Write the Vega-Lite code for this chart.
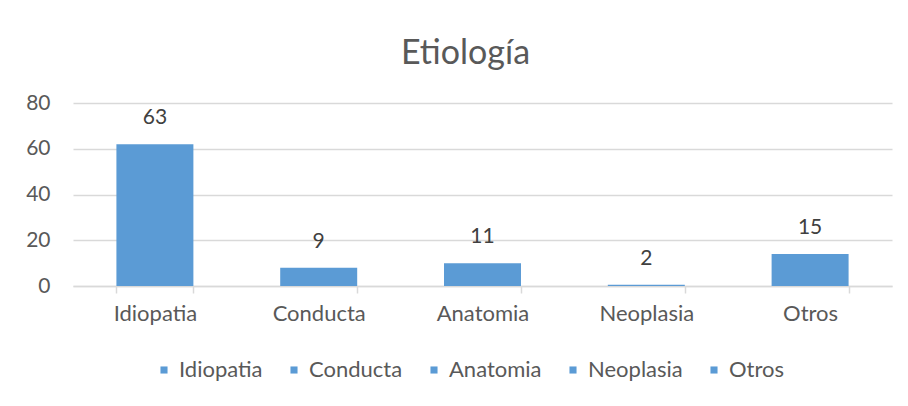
{
  "$schema": "https://vega.github.io/schema/vega-lite/v6.json",
  "width": 819,
  "height": 183,
  "autosize": {"type": "none"},
  "padding": {"left": 73, "top": 103, "right": 16, "bottom": 120},
  "background": "white",
  "config": {"view": {"stroke": null}, "font": "Lato"},
  "title": {
    "text": "Etiología",
    "font": "Lato",
    "fontSize": 34,
    "fontWeight": "normal",
    "color": "#595959",
    "anchor": "middle",
    "baseline": "alphabetic",
    "dx": -17,
    "offset": -6
  },
  "data": {
    "values": [
      {"categoria": "Idiopatia", "n": 63, "barra": 62},
      {"categoria": "Conducta", "n": 9, "barra": 8},
      {"categoria": "Anatomia", "n": 11, "barra": 10},
      {"categoria": "Neoplasia", "n": 2, "barra": 0.5},
      {"categoria": "Otros", "n": 15, "barra": 14}
    ]
  },
  "encoding": {
    "x": {
      "field": "categoria",
      "type": "nominal",
      "sort": null,
      "scale": {"paddingInner": 0.53, "paddingOuter": 0.265},
      "axis": {
        "title": null,
        "labelAngle": 0,
        "labelFont": "Lato",
        "labelFontSize": 22,
        "labelColor": "#595959",
        "labelPadding": 10,
        "domainColor": "#d9d9d9",
        "domainWidth": 1.5,
        "tickColor": "#d9d9d9",
        "tickWidth": 1.5,
        "tickSize": 7,
        "tickBand": "extent",
        "grid": false
      }
    },
    "y": {
      "field": "barra",
      "type": "quantitative",
      "scale": {"domain": [0, 80], "nice": false},
      "axis": {
        "title": null,
        "values": [0, 20, 40, 60, 80],
        "domain": false,
        "ticks": false,
        "grid": true,
        "gridColor": "#d9d9d9",
        "gridWidth": 1.5,
        "labelFont": "Lato",
        "labelFontSize": 21,
        "labelColor": "#595959",
        "labelPadding": 23
      }
    }
  },
  "layer": [
    {
      "mark": {"type": "bar"},
      "encoding": {
        "color": {
          "field": "categoria",
          "type": "nominal",
          "sort": null,
          "scale": {"range": ["#5B9BD5", "#5B9BD5", "#5B9BD5", "#5B9BD5", "#5B9BD5"]},
          "legend": {
            "title": null,
            "orient": "none",
            "legendX": 80,
            "legendY": 256,
            "direction": "horizontal",
            "columns": 5,
            "columnPadding": 20,
            "symbolType": "square",
            "symbolSize": 50,
            "symbolStrokeWidth": 0,
            "labelFont": "Lato",
            "labelFontSize": 22,
            "labelColor": "#595959",
            "labelOffset": 4
          }
        }
      }
    },
    {
      "mark": {
        "type": "text",
        "baseline": "alphabetic",
        "dy": -20,
        "font": "Lato",
        "fontSize": 21,
        "color": "#404040"
      },
      "encoding": {"text": {"field": "n", "type": "quantitative"}}
    }
  ]
}
